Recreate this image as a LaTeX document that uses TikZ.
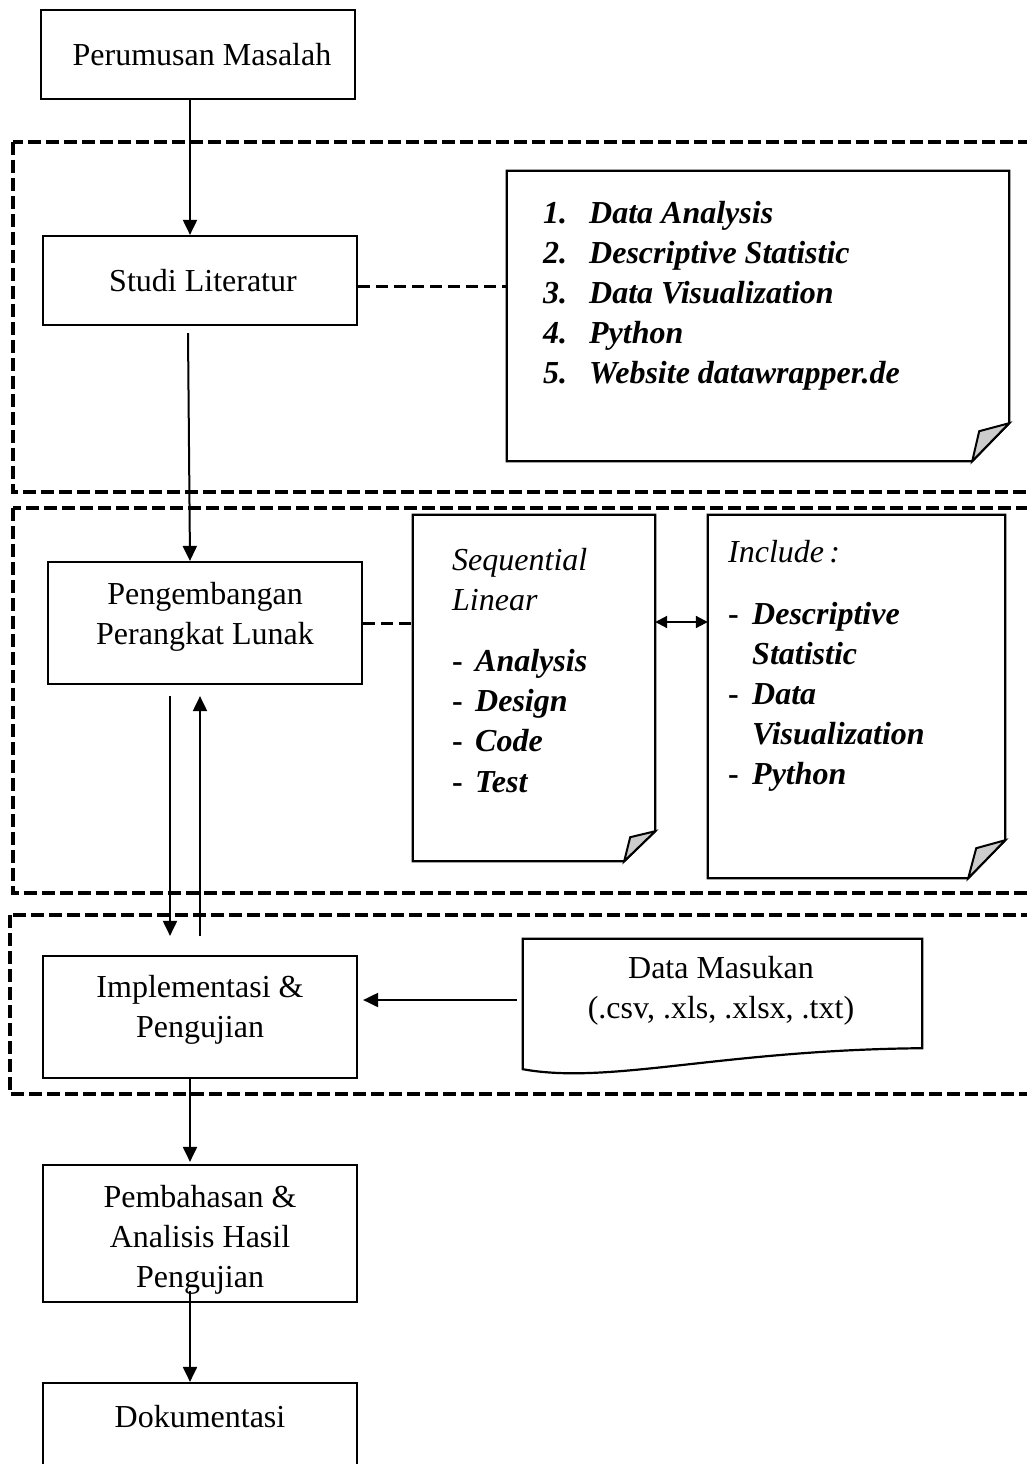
\documentclass[tikz,border=0pt]{standalone}
\usepackage{fontspec}
\setmainfont{Liberation Serif}
\usetikzlibrary{arrows.meta,calc}
\begin{document}
\begin{tikzpicture}[x=1pt,y=-1pt,
  font=\fontsize{32}{40}\selectfont,
  box/.style={draw, line width=2.2pt, minimum width=314pt, inner sep=0pt, align=center},
  plain/.style={inner sep=0pt, align=center},
  notebox/.style={line width=2.2pt, line join=miter},
  region/.style={line width=3.5pt, dash pattern=on 13pt off 5pt},
  arr/.style={line width=2pt, -{Triangle[length=15pt,width=14pt]}},
  darr/.style={line width=2pt, {Triangle[length=12pt,width=12pt]}-{Triangle[length=12pt,width=12pt]}},
  dcon/.style={line width=3pt, dash pattern=on 12pt off 6pt},
  fold/.style={fill=black!20, draw, line width=2pt, line join=miter},
  txt/.style={inner sep=0pt, anchor=base west},
  bi/.style={font=\fontsize{32}{40}\selectfont\bfseries\itshape},
  it/.style={font=\fontsize{32}{40}\selectfont\itshape}]
\clip (0,0) rectangle (1027,1464);
\fill[white] (0,0) rectangle (1027,1464);

% dashed regions
\draw[region] (13,142) rectangle (1045,492);
\draw[region] (13,508) rectangle (1045,893);
\draw[region] (10,915) rectangle (1045,1094);

% boxes
\node[box, minimum height=89pt] (p1) at (198,54.5) {};
\node[plain] (t1) at (202,54.5) {Perumusan Masalah};
\node[box, minimum height=89pt] (p2) at (200,280.5) {};
\node[plain] (t2) at (203,280.5) {Studi Literatur};
\node[box, minimum height=122pt] (p3) at (205,623) {};
\node[plain] (t3) at (205,617) {Pengembangan\\Perangkat Lunak};
\node[box, minimum height=122pt] (p4) at (200,1017) {};
\node[plain] (t4) at (200,1009.5) {Implementasi \&\\Pengujian};
\node[box, minimum height=137pt] (p5) at (200,1233.5) {};
\node[plain] (t5) at (200,1239.5) {Pembahasan \&\\Analisis Hasil\\Pengujian};
\node[box, minimum height=100pt] (p6) at (200,1433) {};
\node[plain] (t6) at (200,1417) {Dokumentasi};

% note 1
\node[minimum width=502pt, minimum height=290pt, inner sep=0pt] (n1) at (758,316) {};
\draw[notebox] (n1.north west) -- (n1.north east) -- ([yshift=38]n1.south east)
  -- ([xshift=-37]n1.south east) -- (n1.south west) -- cycle;
\filldraw[fold] ([xshift=-37]n1.south east) -- ([xshift=-30,yshift=30]n1.south east)
  -- ([yshift=38]n1.south east) -- cycle;
\node[txt, bi] (l1) at (543,223.5) {\makebox[46pt][l]{1.}Data Analysis};
\node[txt, bi] (l2) at (543,263.5) {\makebox[46pt][l]{2.}Descriptive Statistic};
\node[txt, bi] (l3) at (543,303) {\makebox[46pt][l]{3.}Data Visualization};
\node[txt, bi] (l4) at (543,343) {\makebox[46pt][l]{4.}Python};
\node[txt, bi] (l5) at (543,383) {\makebox[46pt][l]{5.}Website datawrapper.de};

% note 2
\node[minimum width=242pt, minimum height=346pt, inner sep=0pt] (n2) at (534,688) {};
\draw[notebox] (n2.north west) -- (n2.north east) -- ([yshift=30]n2.south east)
  -- ([xshift=-31]n2.south east) -- (n2.south west) -- cycle;
\filldraw[fold] ([xshift=-31]n2.south east) -- ([xshift=-25,yshift=24]n2.south east)
  -- ([yshift=30]n2.south east) -- cycle;
\node[txt, it] (s1) at (452,570) {Sequential};
\node[txt, it] (s2) at (452,610) {Linear};
\node[txt, bi] (s3) at (452,671) {\makebox[23pt][l]{\upshape -}Analysis};
\node[txt, bi] (s4) at (452,711) {\makebox[23pt][l]{\upshape -}Design};
\node[txt, bi] (s5) at (452,751) {\makebox[23pt][l]{\upshape -}Code};
\node[txt, bi] (s6) at (452,792) {\makebox[23pt][l]{\upshape -}Test};

% note 3
\node[minimum width=297pt, minimum height=363pt, inner sep=0pt] (n3) at (856.5,696.5) {};
\draw[notebox] (n3.north west) -- (n3.north east) -- ([yshift=38]n3.south east)
  -- ([xshift=-37]n3.south east) -- (n3.south west) -- cycle;
\filldraw[fold] ([xshift=-37]n3.south east) -- ([xshift=-29,yshift=30]n3.south east)
  -- ([yshift=38]n3.south east) -- cycle;
\node[txt, it] (i1) at (728,562) {Include\,:};
\node[txt, bi] (i2) at (728,624) {\makebox[24pt][l]{\upshape -}Descriptive};
\node[txt, bi] (i3) at (752,664) {Statistic};
\node[txt, bi] (i4) at (728,704) {\makebox[24pt][l]{\upshape -}Data};
\node[txt, bi] (i5) at (752,744) {Visualization};
\node[txt, bi] (i6) at (728,784) {\makebox[24pt][l]{\upshape -}Python};

% data masukan
\node[minimum width=399pt, minimum height=130pt, inner sep=0pt] (dm) at (722.5,1004) {};
\draw[notebox] (dm.south west) -- (dm.north west) -- (dm.north east) -- ([yshift=21]dm.south east)
  .. controls (720,1050) and (610,1085) .. (dm.south west) -- cycle;
\node[plain] (dmt) at (721,991) {Data Masukan\\(.csv, .xls, .xlsx, .txt)};

% connectors
\draw[arr] ([xshift=-8]p1.south) -- ([xshift=-10]p2.north);
\draw[arr] ([xshift=-12,yshift=-7]p2.south) -- ([xshift=-15]p3.north);
\draw[dcon] ([yshift=-5.5]p2.east) -- ([yshift=-5.5]p2.east -| n1.west);
\draw[dcon] (p3.east) -- (p3.east -| n2.west);
\draw[darr] ([yshift=66]n2.east) -- ([yshift=66]n2.east -| n3.west);
\draw[arr] ([xshift=-35,yshift=-11]p3.south) -- ([xshift=-30,yshift=19]p4.north);
\draw[arr] ([yshift=19]p4.north) -- ([xshift=-5,yshift=-11]p3.south);
\draw[arr] ([xshift=-6,yshift=4]dm.west) -- ([xshift=5,yshift=4]dm.west -| p4.east);
\draw[arr] ([xshift=-10]p4.south) -- ([xshift=-10,yshift=2]p5.north);
\draw[arr] ([xshift=-10,yshift=12]p5.south) -- ([xshift=-10]p6.north);
\end{tikzpicture}
\end{document}
